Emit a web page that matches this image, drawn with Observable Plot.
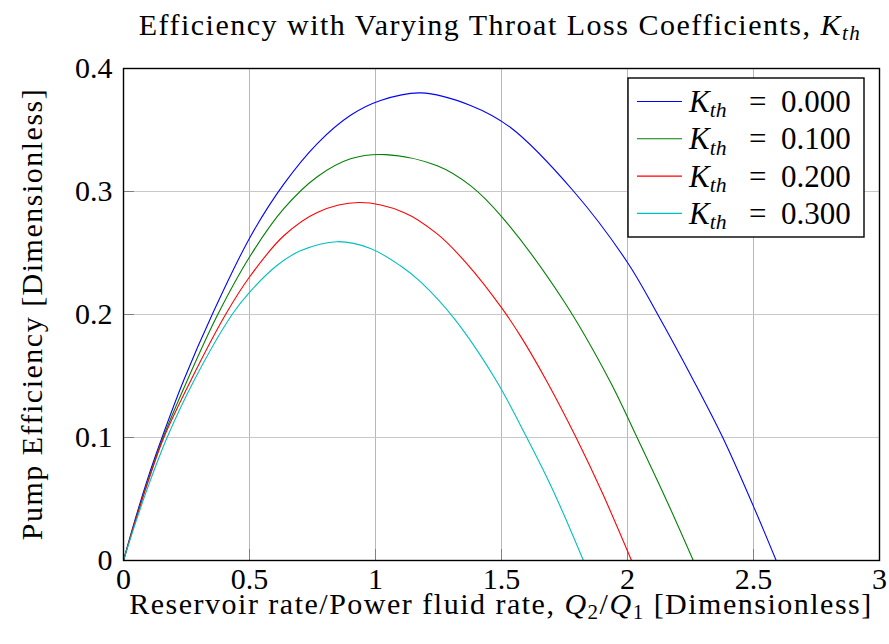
<!DOCTYPE html>
<html><head><meta charset="utf-8">
<script src="https://cdn.jsdelivr.net/npm/d3@7"></script>
<script src="https://cdn.jsdelivr.net/npm/@observablehq/plot@0.6"></script>
<style>
body{margin:0;background:#fff;}
#wrap{position:relative;width:889px;height:644px;}
#wrap svg{position:absolute;left:0;top:0;}
#wrap svg text{font-family:"Liberation Serif",serif;}
</style></head><body><div id="wrap"></div>
<script>
// Series labels and colours
const kthLabels = ["0.000", "0.100", "0.200", "0.300"];
const seriesColors = ["#0000ff", "#008000", "#ff0000", "#00bfbf"];

// K_th = 0.000
const m0 = [0, 0.05, 0.1, 0.153, 0.239, 0.352, 0.504, 0.636, 0.769, 0.901, 1.02, 1.179, 1.377, 1.536, 1.787, 2.0, 2.12, 2.263, 2.378, 2.5, 2.59];
const e0 = [0, 0.036, 0.069, 0.1, 0.1465, 0.2, 0.2635, 0.306, 0.339, 0.362, 0.374, 0.3802, 0.370, 0.352, 0.300, 0.2423, 0.2, 0.146, 0.1, 0.044, 0];
// K_th = 0.100
const m1 = [0, 0.05, 0.1, 0.157, 0.252, 0.374, 0.504, 0.636, 0.769, 0.901, 1.04, 1.245, 1.377, 1.503, 1.747, 1.93, 2.038, 2.157, 2.261];
const e1 = [0, 0.0345, 0.0665, 0.1, 0.146, 0.2, 0.248, 0.286, 0.312, 0.3266, 0.330, 0.321, 0.3048, 0.279, 0.211, 0.146, 0.1, 0.048, 0];
// K_th = 0.200
const m2 = [0, 0.05, 0.1, 0.16, 0.266, 0.405, 0.5, 0.636, 0.769, 0.934, 1.112, 1.245, 1.364, 1.5, 1.575, 1.679, 1.796, 1.9, 2.016];
const e2 = [0, 0.034, 0.0655, 0.1, 0.146, 0.2, 0.2305, 0.264, 0.283, 0.291, 0.283, 0.2655, 0.241, 0.2056, 0.1826, 0.146, 0.1, 0.055, 0];
// K_th = 0.300
const m3 = [0, 0.05, 0.1, 0.173, 0.279, 0.431, 0.5, 0.61, 0.702, 0.848, 0.98, 1.099, 1.179, 1.311, 1.48, 1.575, 1.70, 1.825];
const e3 = [0, 0.032, 0.0615, 0.1, 0.146, 0.2, 0.218, 0.240, 0.2518, 0.2592, 0.2537, 0.2396, 0.2265, 0.197, 0.146, 0.110, 0.059, 0];

// Axis ticks
const xTicks = [0, 0.5, 1, 1.5, 2, 2.5, 3];
const xTickLabels = ["0", "0.5", "1", "1.5", "2", "2.5", "3"];
const yTicks = [0, 0.1, 0.2, 0.3, 0.4];
const yTickLabels = ["0", "0.1", "0.2", "0.3", "0.4"];

const mArr = [m0, m1, m2, m3];
const eArr = [e0, e1, e2, e3];
const rows = [];
kthLabels.forEach((k, s) => mArr[s].forEach((m, i) => rows.push({k, m, e: eArr[s][i]})));

const W = 889, H = 644, mL = 123, mR = 10, mT = 68, mB = 84;
const FONT = "Liberation Serif, serif";
const TICKFS = 30;
const LABFS = 30;

const plot = Plot.plot({
  width: W, height: H,
  marginLeft: mL, marginRight: mR, marginTop: mT, marginBottom: mB,
  style: {fontFamily: FONT, fontSize: TICKFS + "px", background: "white", color: "black"},
  x: {domain: [0, 3], label: null},
  y: {domain: [0, 0.4], label: null},
  color: {domain: kthLabels, range: seriesColors},
  marks: [
    Plot.gridX(xTicks, {stroke: "#b8b8b8", strokeOpacity: 1, strokeWidth: 1}),
    Plot.gridY(yTicks, {stroke: "#c8c8c8", strokeOpacity: 1, strokeWidth: 1.2}),
    Plot.ruleX(xTicks, {x: d => d, stroke: "#808080", insetTop: H - mT - mB - 11}),
    Plot.ruleY(yTicks, {y: d => d, stroke: "#808080", insetRight: W - mL - mR - 11}),
    Plot.line(rows, {x: "m", y: "e", z: "k", stroke: "k", strokeWidth: 1.1, curve: "catmull-rom"}),
    Plot.axisX(xTicks, {tickSize: 0, tickPadding: 7, fontSize: TICKFS, fontFamily: FONT, tickFormat: d => xTickLabels[xTicks.indexOf(d)], label: null}),
    Plot.axisY(yTicks, {tickSize: 0, tickPadding: 11, fontSize: TICKFS, fontFamily: FONT, tickFormat: d => yTickLabels[yTicks.indexOf(d)], label: null}),
    Plot.frame({stroke: "black", strokeWidth: 1.4})
  ]
});
d3.select(plot).selectAll("text").style("font-family", "'Liberation Serif', serif").style("font-variant", "normal");
document.getElementById("wrap").appendChild(plot);

// Overlay for title, axis labels and legend (rich text)
const ov = d3.select("#wrap").append("svg").attr("width", W).attr("height", H)
  .style("font-size", LABFS + "px");

function addMath(t, parts) {
  parts.forEach(p => {
    const ts = t.append("tspan").text(p.t);
    if (p.i) ts.style("font-style", "italic");
    if (p.sub) ts.attr("font-size", "0.7em").attr("dy", "0.25em");
    if (p.up) ts.attr("dy", "-0.175em");
    if (p.x != null) ts.attr("x", p.x);
  });
}

const cx = (mL + (W - mR)) / 2;

const title = ov.append("text").attr("x", cx - 1).attr("y", 35).attr("text-anchor", "middle")
  .style("letter-spacing", "1.5px");
addMath(title, [{t: "Efficiency with Varying Throat Loss Coefficients, "}, {t: "K", i: 1}, {t: "th", i: 1, sub: 1}]);

const xl = ov.append("text").attr("x", cx).attr("y", 614).attr("text-anchor", "middle")
  .style("letter-spacing", "1.5px");
addMath(xl, [{t: "Reservoir rate/Power fluid rate, "}, {t: "Q", i: 1}, {t: "2", sub: 1}, {t: "/", up: 1}, {t: "Q", i: 1}, {t: "1", sub: 1}, {t: " [Dimensionless]", up: 1}]);

ov.append("text").attr("transform", `translate(42,${(mT + H - mB) / 2}) rotate(-90)`).attr("text-anchor", "middle")
  .style("letter-spacing", "1.5px")
  .text("Pump Efficiency [Dimensionless]");

// Legend
const lg = ov.append("g");
lg.append("rect").attr("x", 628).attr("y", 78).attr("width", 236).attr("height", 159)
  .attr("fill", "white").attr("stroke", "black").attr("stroke-width", 1.4);
kthLabels.forEach((k, i) => {
  const yc = 101.5 + i * 37.3;
  lg.append("line").attr("x1", 637).attr("x2", 682).attr("y1", yc).attr("y2", yc)
    .attr("stroke", seriesColors[i]).attr("stroke-width", 1.1);
  const t = lg.append("text").attr("x", 689).attr("y", yc + 10.5).attr("font-size", 31);
  addMath(t, [{t: "K", i: 1}, {t: "th", i: 1, sub: 1}, {t: "=", up: 1, x: 749}, {t: k, x: 781}]);
});
</script>
</body></html>
